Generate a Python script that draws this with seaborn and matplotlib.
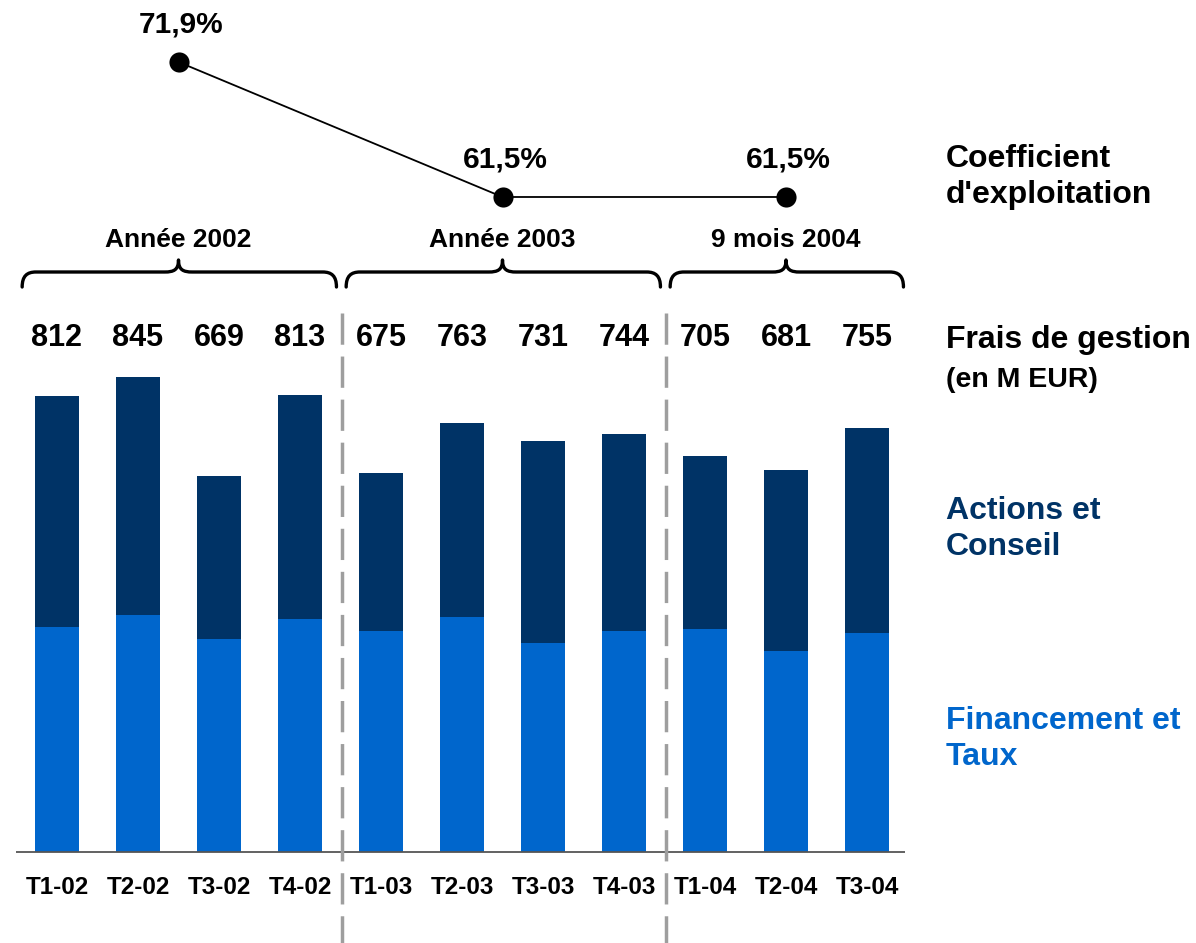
import numpy as np
import matplotlib
matplotlib.use("Agg")
import matplotlib.pyplot as plt
import matplotlib.transforms as mtransforms
import seaborn as sns
from matplotlib.path import Path
from matplotlib.patches import PathPatch

# Data
quarters = ['T1-02', 'T2-02', 'T3-02', 'T4-02', 'T1-03', 'T2-03', 'T3-03', 'T4-03',
            'T1-04', 'T2-04', 'T3-04']
frais_total = [812, 845, 669, 813, 675, 763, 731, 744, 705, 681, 755]
financement = [401, 422, 379, 415, 394, 418, 372, 394, 397, 358, 390]
groups = ['Année 2002', 'Année 2003', '9 mois 2004']
group_sizes = [4, 4, 3]
coef_values = [71.9, 61.5, 61.5]
coef_labels = ['71,9%', '61,5%', '61,5%']

DARK = '#003366'
LIGHT = '#0066CC'
GREY = '#9E9E9E'

sns.set_theme(style='white')
plt.rcParams['font.family'] = ['Liberation Sans', 'DejaVu Sans']
plt.rcParams['font.weight'] = 'bold'
plt.rcParams['text.color'] = 'black'

W, H = 1196, 943
fig = plt.figure(figsize=(W / 100, H / 100), dpi=100)
ax = fig.add_axes([0, 0, 1, 1])

# bar axis: x in category index, y in M EUR
x0_px, step_px, base_px, px_per_unit = 57, 81.0, 852, 0.5616
xlim = (-x0_px / step_px, (W - x0_px) / step_px)
ylim = (-(H - base_px) / px_per_unit, base_px / px_per_unit)

sns.barplot(x=quarters, y=frais_total, color=DARK, saturation=1, width=0.555,
            linewidth=0, ax=ax)
sns.barplot(x=quarters, y=financement, color=LIGHT, saturation=1, width=0.555,
            linewidth=0, ax=ax)
ax.set_xlim(*xlim)
ax.set_ylim(*ylim)
ax.axis('off')
ax.hlines(0, -0.51, 10.47, color='#555555', lw=1.3, zorder=3)

# overlay in pixel coordinates for annotations
ov = fig.add_axes([0, 0, 1, 1])
ov.set_xlim(*xlim)
ov.set_ylim(H, 0)
ov.axis('off')
ov.patch.set_alpha(0)

for i, (q, tot) in enumerate(zip(quarters, frais_total)):
    ov.text(i, 338, str(tot), ha='center', va='center', fontsize=22, fontweight='bold')
    ov.text(i, 888, q, ha='center', va='center', fontsize=17.5, fontweight='bold')

# group separators, braces and titles
starts = np.cumsum([0] + group_sizes[:-1])
centers = []
for g, (name, s, n) in enumerate(zip(groups, starts, group_sizes)):
    a, b = s - 0.43, s + n - 1 + 0.45
    c = (s + s + n - 1) / 2
    centers.append(c)
    r, k = 0.17, 0.06
    yb, ym, yt = 287, 272, 260
    verts = [(a, yb), (a, ym + 4), (a + k, ym), (a + r, ym),
             (c - r, ym),
             (c - k, ym), (c, ym - 2), (c, yt),
             (c, ym - 2), (c + k, ym), (c + r, ym),
             (b - r, ym),
             (b - k, ym), (b, ym + 4), (b, yb)]
    codes = [Path.MOVETO, Path.CURVE4, Path.CURVE4, Path.CURVE4,
             Path.LINETO,
             Path.CURVE4, Path.CURVE4, Path.CURVE4,
             Path.CURVE4, Path.CURVE4, Path.CURVE4,
             Path.LINETO,
             Path.CURVE4, Path.CURVE4, Path.CURVE4]
    ov.add_patch(PathPatch(Path(verts, codes), fill=False, lw=2.4, color='black',
                           capstyle='round', joinstyle='round'))
    ov.text(c, 240, name, ha='center', va='center', fontsize=19, fontweight='bold')
    if g > 0:
        xs = s - 0.48
        ov.plot([xs, xs], [313, H], color=GREY, lw=2.5, dashes=(9, 3.4),
                solid_capstyle='butt')

# coefficient d'exploitation on its own scale
ax3 = fig.add_axes([0, 0, 1, 1])
c_px = 12.98
sns.lineplot(x=centers, y=coef_values, color='black', lw=1.3, marker='o',
             markersize=14.5, markeredgewidth=0, ax=ax3)
ax3.set_xlim(*xlim)
ax3.set_ylim(71.9 - (H - 62) / c_px, 71.9 + 62 / c_px)
ax3.axis('off')
ax3.patch.set_alpha(0)
for xc, v, lab in zip(centers, coef_values, coef_labels):
    ax3.annotate(lab, (xc, v), xytext=(2, 27), textcoords='offset points',
                 ha='center', va='center', fontsize=21.5, fontweight='bold')

# right-hand legend text (x in pixels, y in overlay pixels)
tr = mtransforms.blended_transform_factory(mtransforms.IdentityTransform(), ov.transData)
tx = 946
side = [
    (177, "Coefficient\nd'exploitation", 23, 'black'),
    (340, 'Frais de gestion', 23, 'black'),
    (380, '(en M EUR)', 20.5, 'black'),
    (529, 'Actions et\nConseil', 23, DARK),
    (739, 'Financement et\nTaux', 23, LIGHT),
]
for y, txt, fs, col in side:
    ov.text(tx, y, txt, ha='left', va='center', fontsize=fs, fontweight='bold',
            color=col, linespacing=1.3, transform=tr)

fig.savefig('out.png', dpi=100)
